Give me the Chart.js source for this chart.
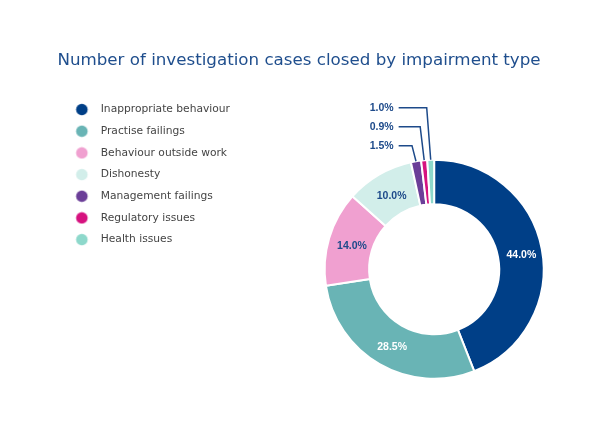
<!DOCTYPE html>
<html>
<head>
<meta charset="utf-8">
<script src="https://cdn.jsdelivr.net/npm/chart.js@4.4.1/dist/chart.umd.min.js"></script>
<style>
html, body { margin: 0; padding: 0; background: #ffffff; overflow: hidden; }
#wrap { position: relative; width: 601px; height: 428px; overflow: hidden; background: #ffffff; }
#c { position: absolute; left: 0; top: 0; }
</style>
</head>
<body>
<div id="wrap"><canvas id="c" width="630" height="446"></canvas></div>
<script>
// ---- data ----
const titleText = 'Number of investigation cases closed by impairment type';
const categories = [
  'Inappropriate behaviour',
  'Practise failings',
  'Behaviour outside work',
  'Dishonesty',
  'Management failings',
  'Regulatory issues',
  'Health issues'
];
const shares = [44.0, 28.5, 14.0, 10.0, 1.5, 0.9, 1.0];

// ---- styles ----
const sliceColors = ['#003f87', '#69b4b5', '#f0a0d0', '#d2eeea', '#6b3e98', '#d6127f', '#8dd8cb'];
const labelColors = ['#ffffff', '#ffffff', '#1d4a8a', '#1d4a8a', '#1d4a8a', '#1d4a8a', '#1d4a8a'];
const NAVY = '#1d4a8a';
const TITLE_COLOR = '#1f4e8d';
const LEGEND_TEXT = '#444444';

function makeDot(color) {
  const c = document.createElement('canvas');
  c.width = 27; c.height = 13;
  const g = c.getContext('2d');
  g.fillStyle = color;
  g.beginPath();
  g.arc(13.5, 6.5, 5.8, 0, Math.PI * 2);
  g.fill();
  return c;
}
const dots = sliceColors.map(makeDot);

const sliceLabels = {
  id: 'sliceLabels',
  afterDatasetsDraw(chart) {
    const ctx = chart.ctx;
    const meta = chart.getDatasetMeta(0);
    const values = chart.data.datasets[0].data;
    ctx.save();
    ctx.font = 'bold 10.5px "Liberation Sans", Arial, sans-serif';
    ctx.textBaseline = 'middle';
    let k = 0;
    let y0 = null;
    meta.data.forEach((arc, i) => {
      const v = values[i];
      const txt = v.toFixed(1) + '%';
      if (v >= 5) {
        const p = arc.tooltipPosition();
        ctx.fillStyle = labelColors[i];
        ctx.textAlign = 'center';
        ctx.fillText(txt, p.x + 1.5, p.y + 2);
      } else {
        const pr = arc.getProps(['x', 'y', 'startAngle', 'endAngle', 'outerRadius'], true);
        const mid = (pr.startAngle + pr.endAngle) / 2;
        const ex = pr.x + Math.cos(mid) * pr.outerRadius;
        const ey = pr.y + Math.sin(mid) * pr.outerRadius;
        if (y0 === null) y0 = ey - 15.6;
        const ly = y0 - 19 * k;
        k++;
        const textRight = pr.x - 40.5;
        ctx.fillStyle = NAVY;
        ctx.textAlign = 'right';
        ctx.fillText(txt, textRight, ly);
        ctx.strokeStyle = NAVY;
        ctx.lineWidth = 1.5;
        ctx.beginPath();
        ctx.moveTo(textRight + 5, ly);
        ctx.lineTo(ex - 4, ly);
        ctx.lineTo(ex, ey);
        ctx.stroke();
      }
    });
    ctx.restore();
  }
};

new Chart(document.getElementById('c'), {
  type: 'doughnut',
  data: {
    labels: categories,
    datasets: [{
      data: shares,
      backgroundColor: sliceColors,
      borderColor: '#ffffff',
      borderWidth: 2,
      hoverOffset: 0
    }]
  },
  options: {
    responsive: false,
    animation: false,
    radius: 109.5,
    cutout: '59.4%',
    layout: { padding: { left: 57.4, right: 1.7, top: 0, bottom: 0.8 } },
    plugins: {
      title: {
        display: true,
        text: titleText,
        align: 'start',
        color: TITLE_COLOR,
        font: { family: '"DejaVu Sans", Verdana, sans-serif', size: 16.7, weight: 'normal' },
        padding: { top: 51.0, bottom: 22.2 }
      },
      legend: {
        display: true,
        position: 'left',
        align: 'start',
        fullSize: false,
        labels: {
          usePointStyle: true,
          pointStyleWidth: 27,
          padding: 10.97,
          color: LEGEND_TEXT,
          font: { family: '"DejaVu Sans", Verdana, sans-serif', size: 10.7 },
          generateLabels: (chart) => categories.map((t, i) => ({
            text: t,
            fillStyle: sliceColors[i],
            strokeStyle: sliceColors[i],
            lineWidth: 0,
            pointStyle: dots[i],
            fontColor: LEGEND_TEXT,
            hidden: !chart.getDataVisibility(i),
            index: i
          }))
        }
      },
      tooltip: { enabled: false }
    }
  },
  plugins: [sliceLabels]
});
</script>
</body>
</html>
